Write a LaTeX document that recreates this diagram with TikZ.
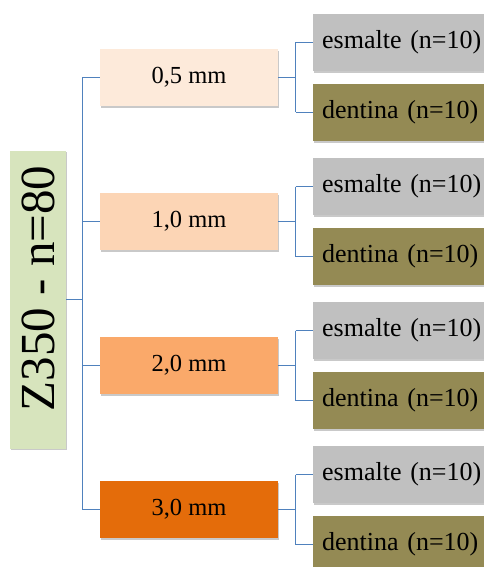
\documentclass[tikz,border=0pt]{standalone}
\usepackage{fontspec}
\setmainfont{Liberation Serif}
\usetikzlibrary{shadows}
\definecolor{rootgreen}{HTML}{D7E4BD}
\definecolor{cA}{HTML}{FDEADA}
\definecolor{cB}{HTML}{FCD5B5}
\definecolor{cC}{HTML}{FAA96A}
\definecolor{cD}{HTML}{E46C0A}
\definecolor{esm}{HTML}{C0C0C0}
\definecolor{den}{HTML}{948A54}
\definecolor{lineblue}{HTML}{4F81BD}
\tikzset{
  box/.style={draw=none, inner sep=0pt, drop shadow={shadow xshift=1.2pt, shadow yshift=-1.8pt, opacity=0.35, fill=black!60}},
  levelbox/.style={box, minimum width=178pt, minimum height=57pt, font=\fontsize{24.5}{28}\selectfont},
  leafbox/.style={box, anchor=west, minimum height=57pt, text width=168pt, inner xsep=9pt, align=left, font=\fontsize{26}{30}\selectfont},
  conn/.style={draw=lineblue, line width=1pt},
}
\begin{document}
\begin{tikzpicture}[x=1pt,y=-1pt]
\clip (0,0) rectangle (484,567);
\fill[white] (0,0) rectangle (484,567);
\node[box, fill=rootgreen, minimum width=298pt, minimum height=56pt, rotate=90, font=\fontsize{49}{52}\selectfont] (root) at (38,299.5) {Z350 - n=80\kern-22pt};
\node[levelbox, fill=cA] (b0) at (189,77.5) {0,5 mm};
\node[levelbox, fill=cB] (b1) at (189,221.5) {1,0 mm};
\node[levelbox, fill=cC] (b2) at (189,365.5) {2,0 mm};
\node[levelbox, fill=cD] (b3) at (189,509.5) {3,0 mm};
\foreach \i/\yc in {0/77.5,1/221.5,2/365.5,3/509.5}{
  \node[leafbox, fill=esm] (e\i) at (313,\yc-35) {esmalte (n=10)};
  \node[leafbox, fill=den] (d\i) at (313,\yc+35) {dentina (n=10)};
}
\coordinate (tr) at (82.5,299.5);
\draw[conn] (root.south) -- (tr);
\draw[conn] (tr |- b0.west) -- (tr |- b3.west);
\foreach \i in {0,1,2,3}{
  \draw[conn] (tr |- b\i.west) -- (b\i.west);
  \coordinate (br\i) at ([xshift=17.5pt]b\i.east);
  \draw[conn] (b\i.east) -- (br\i);
  \draw[conn] (br\i |- e\i.west) -- (br\i |- d\i.west);
  \draw[conn] (br\i |- e\i.west) -- (e\i.west);
  \draw[conn] (br\i |- d\i.west) -- (d\i.west);
}
\end{tikzpicture}
\end{document}
